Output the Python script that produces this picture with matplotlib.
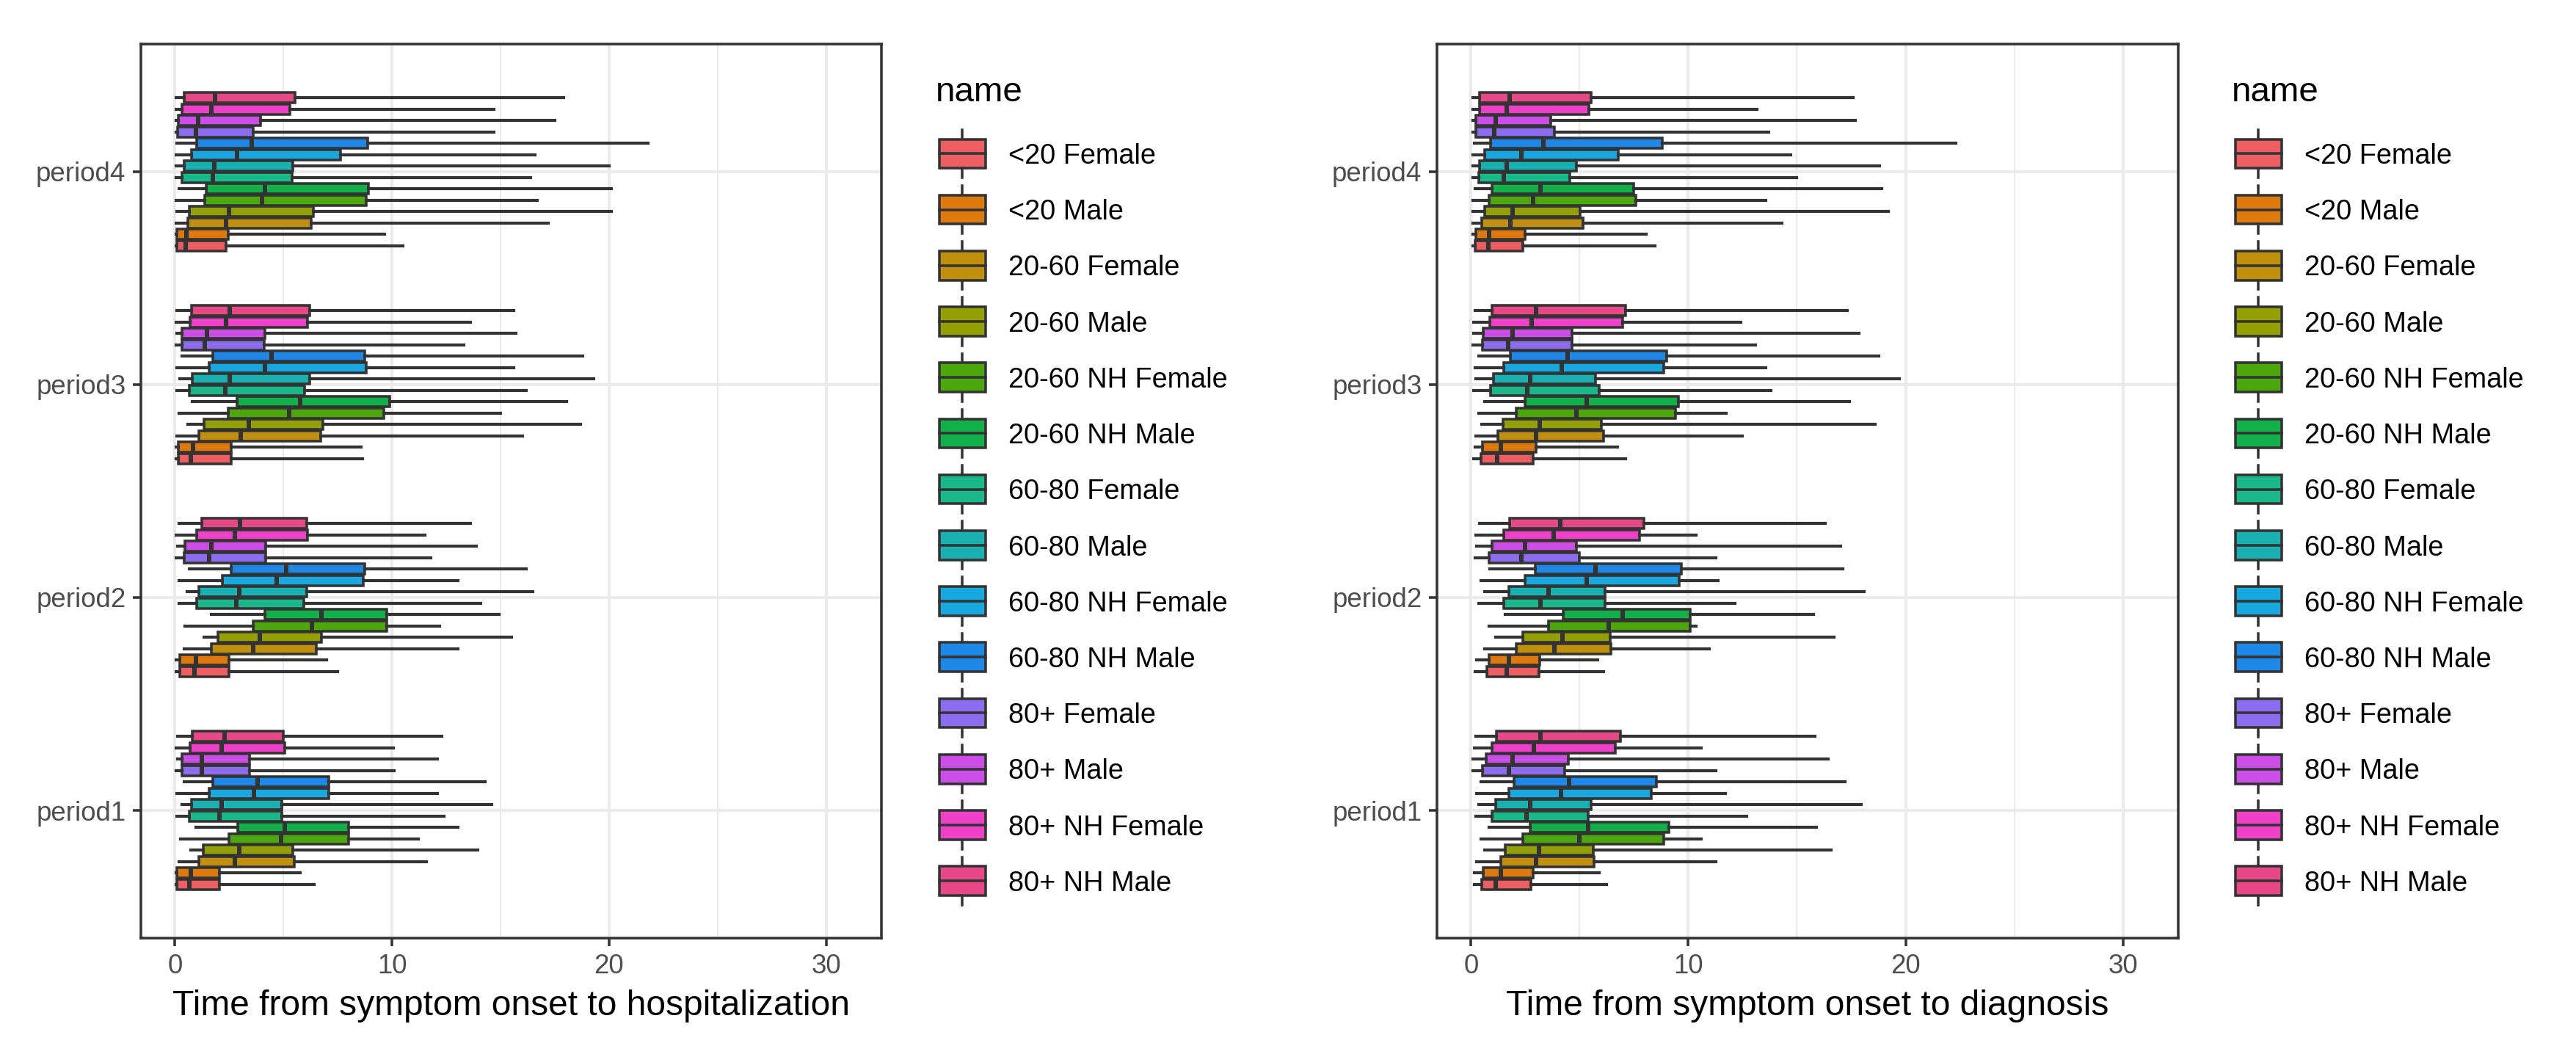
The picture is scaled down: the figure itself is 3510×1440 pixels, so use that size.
import matplotlib
matplotlib.use("Agg")
import matplotlib.pyplot as plt
from matplotlib.patches import Rectangle, Patch
from matplotlib.lines import Line2D
from matplotlib.legend_handler import HandlerBase

plt.rcParams['font.family'] = ['Liberation Sans', 'DejaVu Sans']

# groups, bottom to top inside each period
groups = ['<20 Female', '<20 Male', '20-60 Female', '20-60 Male',
          '20-60 NH Female', '20-60 NH Male', '60-80 Female', '60-80 Male',
          '60-80 NH Female', '60-80 NH Male', '80+ Female', '80+ Male',
          '80+ NH Female', '80+ NH Male']
colors = ['#EE5E62', '#DE7A0C', '#C0900A', '#94A000', '#4CA80A', '#12B048',
          '#18B888', '#18B0B0', '#18A8E0', '#1E88E8', '#8C6CF0', '#CC4EE8',
          '#F040C8', '#E84888']
periods = ['period1', 'period2', 'period3', 'period4']

# symptom onset -> hospitalization, one row per period
hosp_lo = [
    [0.05, 0.05, 0.2, 0.73, 0.27, 0.95, 0.09, 0.32, 0.09, 0.43, 0.05, 0.11, 0.05, 0.11],
    [0.05, 0.05, 0.43, 1.34, 0.45, 1.68, 0.2, 0.55, 0.2, 0.66, 0.05, 0.11, 0.05, 0.2],
    [0.05, 0.05, 0.09, 0.61, 0.2, 0.79, 0.09, 0.23, 0.09, 0.32, 0.05, 0.09, 0.05, 0.09],
    [0.05, 0.05, 0.05, 0.1, 0.05, 0.2, 0.05, 0.05, 0.05, 0.09, 0.05, 0.05, 0.05, 0.05]]
hosp_q1 = [
    [0.09, 0.09, 1.11, 1.3, 2.48, 2.89, 0.66, 0.77, 1.57, 1.75, 0.34, 0.34, 0.68, 0.8],
    [0.23, 0.23, 1.68, 1.98, 3.61, 4.14, 1.0, 1.11, 2.2, 2.59, 0.43, 0.45, 1.0, 1.23],
    [0.16, 0.16, 1.1, 1.33, 2.47, 2.87, 0.66, 0.79, 1.56, 1.74, 0.34, 0.34, 0.68, 0.77],
    [0.09, 0.09, 0.61, 0.66, 1.36, 1.45, 0.34, 0.43, 0.77, 1.0, 0.11, 0.16, 0.34, 0.43]]
hosp_med = [
    [0.66, 0.73, 2.77, 2.95, 4.89, 5.05, 2.05, 2.16, 3.64, 3.8, 1.23, 1.25, 2.16, 2.27],
    [0.91, 0.95, 3.61, 3.9, 6.3, 6.75, 2.82, 2.95, 4.7, 5.11, 1.57, 1.68, 2.77, 3.0],
    [0.72, 0.84, 3.03, 3.39, 5.25, 5.77, 2.31, 2.53, 4.16, 4.46, 1.36, 1.47, 2.35, 2.53],
    [0.5, 0.54, 2.35, 2.49, 4.0, 4.16, 1.74, 1.81, 2.87, 3.55, 0.95, 1.06, 1.67, 1.86]]
hosp_q3 = [
    [2.05, 2.05, 5.5, 5.43, 8.0, 8.0, 4.93, 4.93, 7.09, 7.09, 3.45, 3.45, 5.05, 4.98],
    [2.48, 2.5, 6.52, 6.75, 9.75, 9.75, 5.95, 6.07, 8.68, 8.75, 4.18, 4.18, 6.11, 6.07],
    [2.6, 2.6, 6.72, 6.83, 9.62, 9.89, 5.97, 6.2, 8.8, 8.76, 4.12, 4.16, 6.09, 6.2],
    [2.35, 2.47, 6.27, 6.38, 8.82, 8.91, 5.38, 5.43, 7.62, 8.87, 3.62, 3.94, 5.29, 5.52]]
hosp_hi = [
    [6.4, 5.77, 11.57, 13.95, 11.2, 13.05, 12.4, 14.6, 12.1, 14.3, 10.1, 12.1, 10.05, 12.3],
    [7.5, 6.98, 13.05, 15.5, 12.2, 14.93, 14.1, 16.5, 13.05, 16.2, 11.8, 13.9, 11.5, 13.6],
    [8.64, 8.57, 16.0, 18.7, 15.0, 18.05, 16.2, 19.3, 15.6, 18.8, 13.3, 15.7, 13.6, 15.6],
    [10.5, 9.66, 17.2, 20.1, 16.7, 20.1, 16.4, 20.0, 16.6, 21.8, 14.7, 17.5, 14.7, 17.9]]

# symptom onset -> diagnosis
diag_lo = [
    [0.16, 0.16, 0.27, 0.63, 0.45, 0.84, 0.23, 0.34, 0.27, 0.45, 0.1, 0.1, 0.16, 0.23],
    [0.18, 0.27, 0.63, 1.13, 0.84, 1.58, 0.34, 0.63, 0.45, 0.86, 0.18, 0.27, 0.23, 0.38],
    [0.11, 0.18, 0.23, 0.5, 0.34, 0.61, 0.11, 0.23, 0.18, 0.34, 0.07, 0.11, 0.11, 0.18],
    [0.07, 0.07, 0.07, 0.1, 0.07, 0.18, 0.07, 0.07, 0.07, 0.16, 0.07, 0.07, 0.07, 0.07]]
diag_q1 = [
    [0.5, 0.57, 1.36, 1.58, 2.38, 2.71, 0.95, 1.13, 1.74, 1.99, 0.52, 0.68, 0.95, 1.18],
    [0.72, 0.84, 2.08, 2.38, 3.57, 4.25, 1.52, 1.74, 2.49, 2.94, 0.84, 0.97, 1.52, 1.76],
    [0.45, 0.52, 1.24, 1.47, 2.08, 2.49, 0.9, 1.02, 1.51, 1.81, 0.52, 0.56, 0.86, 0.97],
    [0.18, 0.23, 0.5, 0.61, 0.84, 0.97, 0.34, 0.38, 0.61, 0.9, 0.23, 0.23, 0.38, 0.38]]
diag_med = [
    [1.13, 1.36, 3.0, 3.12, 4.98, 5.38, 2.56, 2.71, 4.14, 4.52, 1.74, 1.92, 2.9, 3.21],
    [1.63, 1.74, 3.85, 4.19, 6.33, 6.97, 3.21, 3.55, 5.32, 5.72, 2.33, 2.49, 3.8, 4.12],
    [1.2, 1.36, 3.0, 3.16, 4.86, 5.31, 2.6, 2.71, 4.18, 4.45, 1.69, 1.92, 2.78, 3.0],
    [0.79, 0.84, 1.81, 1.92, 2.87, 3.2, 1.51, 1.65, 2.33, 3.34, 1.06, 1.13, 1.63, 1.76]]
diag_q3 = [
    [2.76, 2.87, 5.66, 5.61, 8.87, 9.1, 5.38, 5.54, 8.3, 8.53, 4.3, 4.48, 6.63, 6.86],
    [3.12, 3.17, 6.45, 6.4, 10.1, 10.1, 6.15, 6.18, 9.57, 9.68, 4.98, 4.86, 7.76, 7.96],
    [2.87, 2.98, 6.1, 5.99, 9.42, 9.54, 5.88, 5.72, 8.86, 8.99, 4.63, 4.63, 6.96, 7.12],
    [2.37, 2.49, 5.15, 5.02, 7.57, 7.5, 4.56, 4.86, 6.78, 8.81, 3.84, 3.66, 5.42, 5.54]]
diag_hi = [
    [6.22, 5.88, 11.27, 16.58, 10.59, 15.9, 12.7, 17.94, 11.72, 17.2, 11.27, 16.45, 10.59, 15.84],
    [6.11, 5.84, 10.97, 16.7, 10.34, 15.77, 12.15, 18.1, 11.38, 17.1, 11.27, 17.0, 10.36, 16.3],
    [7.12, 6.73, 12.5, 18.6, 11.75, 17.4, 13.8, 19.7, 13.56, 18.76, 13.1, 17.85, 12.4, 17.3],
    [8.47, 8.07, 14.3, 19.2, 13.56, 18.9, 15.0, 18.8, 14.7, 22.3, 13.7, 17.7, 13.15, 17.6]]

EDGE = '#333333'
LW = 0.85
W, H = 3510, 1440


class BoxKeyHandler(HandlerBase):
    # ggplot style boxplot key: box, median line, whisker stubs
    def create_artists(self, legend, orig_handle, xdescent, ydescent,
                       width, height, fontsize, trans):
        x0 = -xdescent
        cy = 0.36 * fontsize
        kh = height
        fc = orig_handle.get_facecolor()
        stub_lo = Line2D([x0 + width / 2] * 2, [cy - 0.46 * kh, cy - 0.28 * kh],
                         color=EDGE, lw=LW, transform=trans)
        stub_hi = Line2D([x0 + width / 2] * 2, [cy + 0.28 * kh, cy + 0.46 * kh],
                         color=EDGE, lw=LW, transform=trans)
        box = Rectangle((x0, cy - 0.28 * kh), width, 0.56 * kh, facecolor=fc,
                        edgecolor=EDGE, lw=LW, transform=trans)
        med = Line2D([x0, x0 + width], [cy, cy], color=EDGE, lw=LW, transform=trans)
        return [stub_lo, stub_hi, box, med]


def draw_panel(ax, lo, q1, med, q3, hi, xlabel):
    slot = 0.75 / len(groups)
    for p in range(len(periods)):
        stats = [dict(whislo=lo[p][g], q1=q1[p][g], med=med[p][g], q3=q3[p][g],
                      whishi=hi[p][g], fliers=[]) for g in range(len(groups))]
        pos = [p + 1 - 0.375 + slot * (g + 0.5) for g in range(len(groups))]
        bp = ax.bxp(stats, positions=pos, widths=slot * 0.9,
                    orientation='horizontal', patch_artist=True,
                    showcaps=False, showfliers=False, manage_ticks=False,
                    boxprops=dict(edgecolor=EDGE, linewidth=LW),
                    whiskerprops=dict(color=EDGE, linewidth=1.0),
                    medianprops=dict(color=EDGE, linewidth=LW * 1.7))
        for patch, c in zip(bp['boxes'], colors):
            patch.set_facecolor(c)

    ax.set_xlim(-1.57, 32.55)
    ax.set_ylim(0.4, 4.6)
    ax.set_xticks([0, 10, 20, 30])
    ax.set_xticks([5, 15, 25], minor=True)
    ax.set_yticks(range(1, len(periods) + 1))
    ax.set_yticklabels(periods)
    ax.set_axisbelow(True)
    ax.grid(which='major', color='#EBEBEB', lw=1.0)
    ax.grid(which='minor', axis='x', color='#EBEBEB', lw=0.5)
    ax.tick_params(which='major', length=2.75, width=LW, color=EDGE,
                   labelcolor='#4D4D4D', labelsize=8.8, pad=2.2)
    ax.tick_params(which='minor', length=0)
    for s in ax.spines.values():
        s.set_color(EDGE)
        s.set_linewidth(LW)
    ax.set_xlabel(xlabel, fontsize=11.5, color='black', labelpad=3.5)


fig = plt.figure(figsize=(W / 300, H / 300), dpi=300)
axL = fig.add_axes([192 / W, 1 - 1278 / H, (1201 - 192) / W, (1278 - 60) / H])
axR = fig.add_axes([1958 / W, 1 - 1278 / H, (2968 - 1958) / W, (1278 - 60) / H])

draw_panel(axL, hosp_lo, hosp_q1, hosp_med, hosp_q3, hosp_hi,
           'Time from symptom onset to hospitalization')
draw_panel(axR, diag_lo, diag_q1, diag_med, diag_q3, diag_hi,
           'Time from symptom onset to diagnosis')

handles = [Patch(facecolor=c) for c in colors]
for key_x in (1280, 1280 + 1766):
    fig.text((key_x - 5) / W, 1 - 126 / H, 'name', fontsize=11.4, ha='left', va='center')
    fig.legend(handles, groups, loc='upper left',
               bbox_to_anchor=(key_x / W, 1 - 176 / H), frameon=False,
               borderpad=0, borderaxespad=0, handlelength=1.66, handleheight=2.5,
               labelspacing=0.14, handletextpad=0.82, fontsize=9.1,
               handler_map={Patch: BoxKeyHandler()})

fig.savefig('out.png', dpi=300)
